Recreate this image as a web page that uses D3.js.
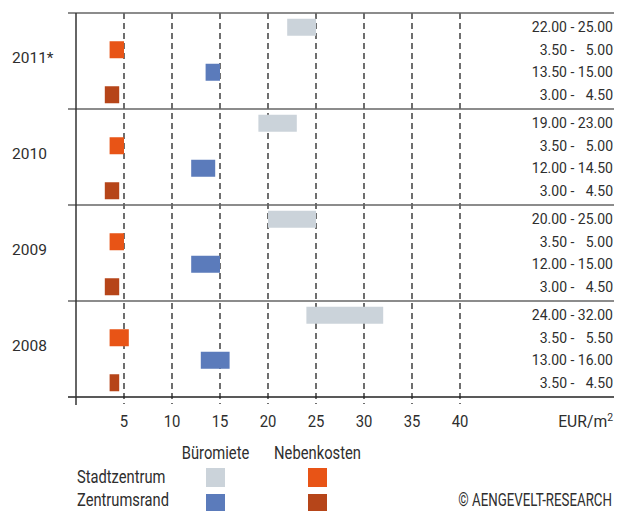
<!DOCTYPE html>
<html>
<head>
<meta charset="utf-8">
<script src="https://cdn.jsdelivr.net/npm/d3@7"></script>
<style>
  html, body { margin: 0; padding: 0; background: #fff; }
  svg text { font-family: "Roboto", "Liberation Sans", sans-serif; fill: #2e2e2e; }
</style>
</head>
<body>
<svg id="chart" width="625" height="511"></svg>
<script>
// Office rents and service charges (EUR/m²), ranges per year
const years = ["2011*", "2010", "2009", "2008"];
const rows = ["szBuero", "szNeben", "zrBuero", "zrNeben"];

const szBuero = [[22, 25], [19, 23], [20, 25], [24, 32]];
const szNeben = [[3.5, 5], [3.5, 5], [3.5, 5], [3.5, 5.5]];
const zrBuero = [[13.5, 15], [12, 14.5], [12, 15], [13, 16]];
const zrNeben = [[3, 4.5], [3, 4.5], [3, 4.5], [3.5, 4.5]];

const xTicks = [5, 10, 15, 20, 25, 30, 35, 40];
const legendCols = ["Büromiete", "Nebenkosten"];
const legendRows = ["Stadtzentrum", "Zentrumsrand"];

const colors = {
  szBuero: "#cbd3da",
  szNeben: "#e85416",
  zrBuero: "#5b7bbb",
  zrNeben: "#b64519"
};

const series = { szBuero, szNeben, zrBuero, zrNeben };

const svg = d3.select("#chart");

// condensed text: scaled horizontally around its anchor point
function condText(sel, px, py, size, sx, anchor, txt) {
  return sel.append("text")
    .attr("transform", `translate(${px},${py}) scale(${sx},1)`)
    .attr("text-anchor", anchor)
    .attr("font-size", size)
    .text(txt);
}

const x = d3.scaleLinear().domain([0, 40]).range([76, 460]);
const yGroup = d3.scaleBand().domain(years).range([13, 397]);
const yRow = d3.scalePoint().domain(rows).range([0, yGroup.bandwidth()]).padding(0.633);
const barH = 17;

// dashed vertical grid lines
svg.append("g").selectAll("line").data(xTicks).join("line")
  .attr("x1", d => x(d)).attr("x2", d => x(d))
  .attr("y1", 13).attr("y2", 404)
  .attr("stroke", "#222").attr("stroke-width", 1.3)
  .attr("stroke-dasharray", "6,4");

// bars
const gYear = svg.append("g").selectAll("g").data(years).join("g")
  .attr("transform", d => `translate(0,${yGroup(d)})`);

rows.forEach(r => {
  gYear.append("rect")
    .attr("x", (d, i) => x(series[r][i][0]))
    .attr("width", (d, i) => x(series[r][i][1]) - x(series[r][i][0]))
    .attr("y", yRow(r) - barH / 2)
    .attr("height", barH)
    .attr("fill", colors[r]);

  // range labels on the right
  gYear.append("text")
    .attr("x", 567).attr("y", yRow(r) + 5)
    .attr("text-anchor", "end").attr("font-size", 14)
    .text((d, i) => series[r][i][0].toFixed(2));
  gYear.append("text")
    .attr("x", 572.5).attr("y", yRow(r) + 5)
    .attr("text-anchor", "middle").attr("font-size", 14)
    .text("-");
  gYear.append("text")
    .attr("x", 613).attr("y", yRow(r) + 5)
    .attr("text-anchor", "end").attr("font-size", 14)
    .text((d, i) => series[r][i][1].toFixed(2));
});

// year labels
gYear.append("text")
  .attr("x", 12).attr("y", yGroup.bandwidth() / 2 + 1.5)
  .attr("font-size", 15.5)
  .text(d => d);

// horizontal separators
const seps = years.map(d => yGroup(d)).concat([yGroup.range()[1]]);
svg.append("g").selectAll("line").data(seps).join("line")
  .attr("x1", 68).attr("x2", 614)
  .attr("y1", d => d).attr("y2", d => d)
  .attr("stroke", (d, i) => i === seps.length - 1 ? "#222" : "#666")
  .attr("stroke-width", 1.5);

// left axis line
svg.append("line")
  .attr("x1", x(0)).attr("x2", x(0)).attr("y1", 13).attr("y2", 405)
  .attr("stroke", "#333").attr("stroke-width", 1.5);

// x axis tick labels
const tickG = svg.append("g");
xTicks.forEach(t => condText(tickG, x(t), 427, 16.5, 0.9, "middle", t));

const unit = svg.append("text")
  .attr("transform", "translate(613,427) scale(0.95,1)")
  .attr("text-anchor", "end").attr("font-size", 16.5);
unit.append("tspan").text("EUR/m");
unit.append("tspan").attr("dy", -6).attr("font-size", 11).text("2");

// legend
const legX = d3.scalePoint().domain(legendCols).range([215.5, 317.5]);
const legY = d3.scalePoint().domain(legendRows).range([477.5, 503.5]);
const legG = svg.append("g");

legendCols.forEach(c => condText(legG, legX(c), 459, 18, 0.82, "middle", c));
legendRows.forEach(r => condText(legG, 77, Math.min(legY(r) + 5.5, 506), 17.5, 0.84, "start", r));

const legKeys = [["szBuero", "szNeben"], ["zrBuero", "zrNeben"]];
legendRows.forEach((rowName, ri) => {
  legendCols.forEach((colName, ci) => {
    legG.append("rect")
      .attr("x", legX(colName) - 9.5).attr("y", legY(rowName) - 9.5)
      .attr("width", 19).attr("height", 19)
      .attr("fill", colors[legKeys[ri][ci]]);
  });
});

condText(svg, 612, 506, 17.5, 0.76, "end", "© AENGEVELT-RESEARCH");
</script>
</body>
</html>
